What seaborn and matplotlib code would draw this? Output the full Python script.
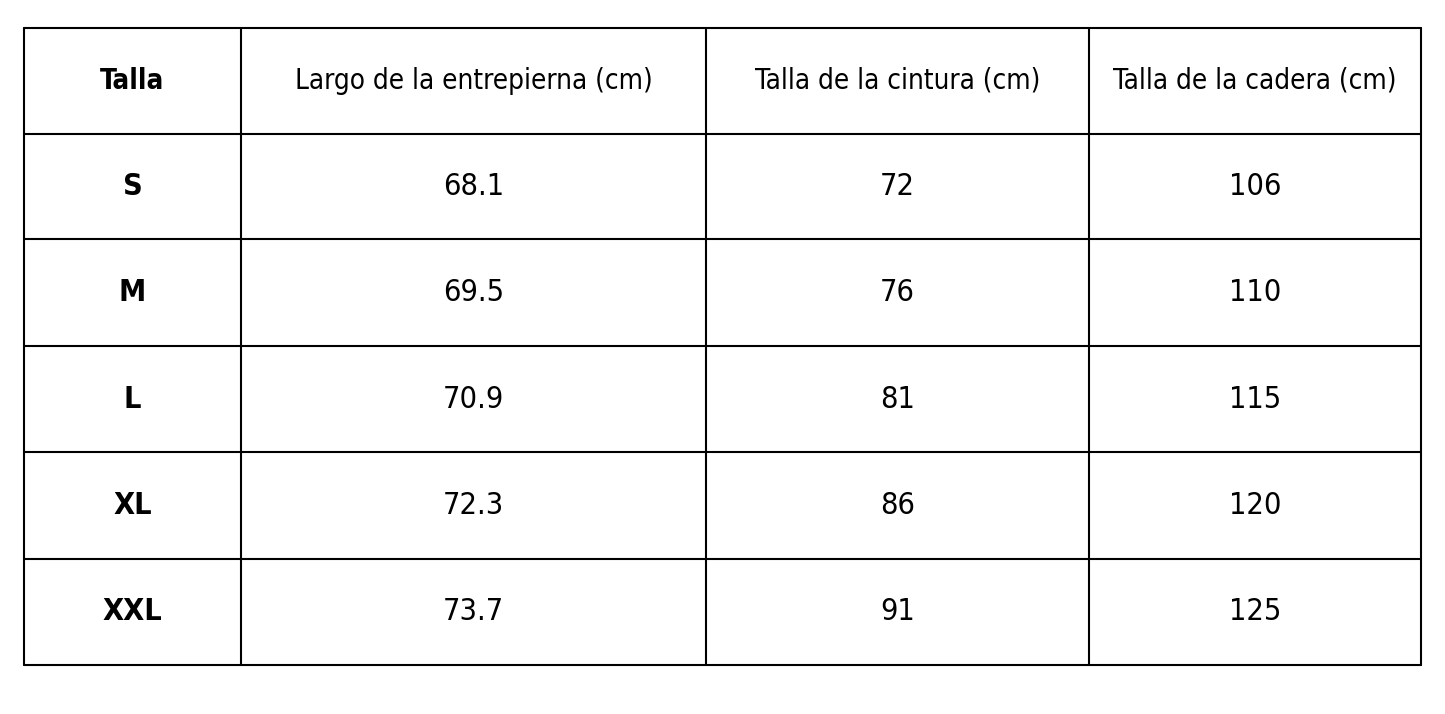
import matplotlib
matplotlib.use("Agg")
import matplotlib.pyplot as plt
import seaborn as sns

sns.set_theme(style="white")
plt.rcParams['font.family'] = ['DejaVu Sans']

headers = ["Talla", "Largo de la entrepierna (cm)", "Talla de la cintura (cm)", "Talla de la cadera (cm)"]
sizes = ["S", "M", "L", "XL", "XXL"]
entrepierna = ["68.1", "69.5", "70.9", "72.3", "73.7"]
cintura = ["72", "76", "81", "86", "91"]
cadera = ["106", "110", "115", "120", "125"]

col_edges = [24, 241, 706, 1089, 1421]
row_edges = [28, 134, 239, 346, 452, 559, 665]

fig = plt.figure(figsize=(14.45, 7.14), dpi=100)
ax = fig.add_axes([0, 0, 1, 1])
ax.set_xlim(0, 1445)
ax.set_ylim(714, 0)
ax.axis("off")

for x in col_edges:
    ax.plot([x, x], [row_edges[0], row_edges[-1]], color="black", lw=1.5)
for y in row_edges:
    ax.plot([col_edges[0], col_edges[-1]], [y, y], color="black", lw=1.5)

def cx(i):
    return (col_edges[i] + col_edges[i + 1]) / 2
def cy(j):
    return (row_edges[j] + row_edges[j + 1]) / 2

for i, h in enumerate(headers):
    ax.text(cx(i), cy(0), h, ha="center", va="center", fontsize=20, color="black",
            fontstretch="condensed", fontweight="semibold" if i == 0 else "normal")

cols = [sizes, entrepierna, cintura, cadera]
for i, col in enumerate(cols):
    for j, v in enumerate(col):
        ax.text(cx(i), cy(j + 1), v, ha="center", va="center", fontsize=22, color="black",
                fontstretch="condensed", fontweight="semibold" if i == 0 else "normal")

fig.savefig("out.png", dpi=100, facecolor="white")
